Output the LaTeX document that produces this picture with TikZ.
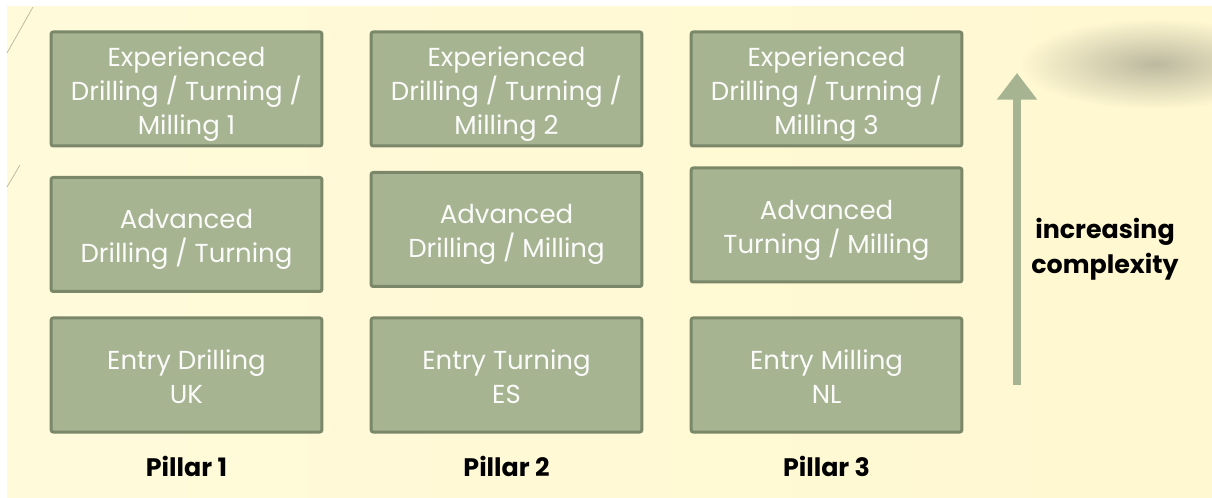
\documentclass[tikz,border=0pt]{standalone}
\usepackage{fontspec}
\setmainfont{Poppins}
\usetikzlibrary{arrows.meta,fadings}

\definecolor{boxfill}{HTML}{A6B492}
\definecolor{boxline}{HTML}{7A8769}
\definecolor{creamside}{HTML}{FFFADA}
\definecolor{creammid}{HTML}{FFFFF6}
\definecolor{creamright}{HTML}{FFF8D0}
\definecolor{smudge}{HTML}{BDB9A0}

\tikzfading[name=blurblob, inner color=transparent!0, outer color=transparent!100]

% strut for the first line of a box
\newcommand{\topline}{\rule{0pt}{23pt}}

\tikzset{
  module/.style={draw=boxline, fill=boxfill, line width=2.25pt, rounded corners=1.5pt,
    minimum width=203pt, minimum height=85.5pt, inner sep=0pt, align=center,
    text=white!95!boxfill, font=\fontsize{19.5}{25.5}\selectfont,
    execute at end node={\rule[-6pt]{0pt}{6pt}}},
  pillar/.style={font=\bfseries\fontsize{19}{26}\selectfont},
}

\begin{document}
\begin{tikzpicture}[x=0.75pt, y=-0.75pt]
\useasboundingbox[fill=white] (0,0) rectangle (1212,498);
% background of the slide
\shade[left color=creamside, middle color=creammid, right color=creamright] (7,7) rectangle (1212,498);
\fill[smudge, path fading=blurblob] (1155,64) ellipse [x radius=135, y radius=45];
\draw[black!25!creamside, line width=0.6pt] (33,7) -- (7,53);
\draw[black!25!creamside, line width=0.6pt] (20,165) -- (7,187);

% pillar 1
\node[module] (exp1) at (186.5,89) {\topline Experienced\\Drilling / Turning /\\Milling 1};
\node[module] (adv1) at (186.5,234.5) {\topline Advanced\\Drilling / Turning};
\node[module] (ent1) at (186.5,375) {\topline Entry Drilling\\UK};
\node[pillar] (p1) at (186.5,466) {Pillar 1};

% pillar 2
\node[module] (exp2) at (506.5,89) {\topline Experienced\\Drilling / Turning /\\Milling 2};
\node[module] (adv2) at (506.5,229.5) {\topline Advanced\\Drilling / Milling};
\node[module] (ent2) at (506.5,375) {\topline Entry Turning\\ES};
\node[pillar] (p2) at (506.5,466) {Pillar 2};

% pillar 3
\node[module] (exp3) at (826.5,89) {\topline Experienced\\Drilling / Turning /\\Milling 3};
\node[module] (adv3) at (826.5,225) {\topline Advanced\\Turning / Milling};
\node[module] (ent3) at (826.5,375) {\topline Entry Milling\\NL};
\node[pillar] (p3) at (826.5,466) {Pillar 3};

% complexity arrow
\coordinate (low) at (1017,385);
\coordinate (high) at (1017,73);
\draw[boxfill, line width=6pt, -{Triangle[width=29pt, length=20pt]}] (low) -- (high);
\node[pillar, align=center] (cx) at (1105,249) {increasing\\complexity};
\end{tikzpicture}
\end{document}
